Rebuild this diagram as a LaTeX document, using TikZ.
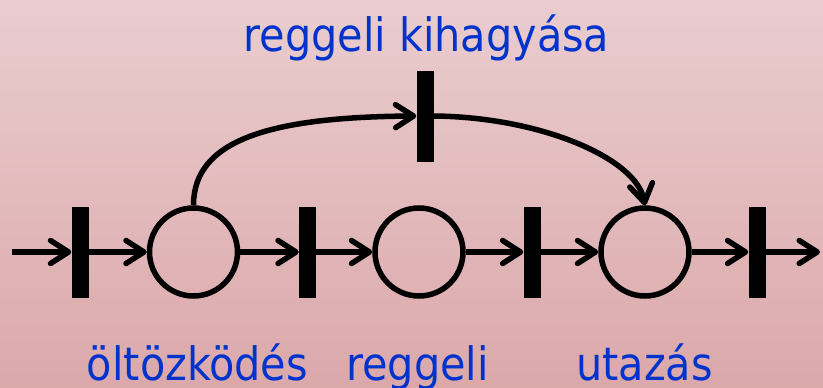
\documentclass[tikz,border=0pt]{standalone}
\usepackage{fontspec}
\setmainfont{DejaVu Sans Condensed}
\usetikzlibrary{arrows.meta}
\definecolor{bgtop}{RGB}{234,205,207}
\definecolor{bgbot}{RGB}{219,168,170}
\definecolor{lbl}{RGB}{0,51,204}
\begin{document}
\begin{tikzpicture}[x=1pt,y=-1pt,
  trans/.style={rectangle, fill=black, draw=none, minimum width=17pt, minimum height=91pt, inner sep=0pt},
  place/.style={circle, draw=black, line width=5.5pt, minimum size=88pt, inner sep=0pt},
  flow/.style={line width=5.5pt, -{Straight Barb[round,length=18pt,width=23pt]}},
  lab/.style={text=lbl, font=\fontsize{46}{50}\selectfont, anchor=base, inner sep=0pt}]
\shade[top color=bgtop, bottom color=bgbot] (0,0) rectangle (823,388);
\useasboundingbox (0,0) rectangle (823,388);
\coordinate (in) at (12,252);
\node[trans] (t1) at (80,252) {};
\node[place] (p1) at (193.5,252) {};
\node[trans] (t2) at (307.5,252) {};
\node[place] (p2) at (419,252) {};
\node[trans] (t3) at (532,252) {};
\node[place] (p3) at (645,252) {};
\node[trans] (t4) at (757,252) {};
\coordinate (out) at (820,252);
\node[trans] (tk) at (425,116) {};
\draw[flow] (in) -- (t1);
\draw[flow] (t1) -- (p1);
\draw[flow] (p1) -- (t2);
\draw[flow] (t2) -- (p2);
\draw[flow] (p2) -- (t3);
\draw[flow] (t3) -- (p3);
\draw[flow] (p3) -- (t4);
\draw[flow] (t4) -- (out);
\draw[flow] (p1.north) .. controls (193.5,140) and (270,117) .. (tk.west);
\draw[flow] (tk.east) .. controls (540,117) and (636,158) .. (p3.north);
\node[lab] (lk) at (426.5,52) {reggeli kihagyása};
\node[lab] (l1) at (197.5,380) {öltözködés};
\node[lab] (l2) at (417.5,380) {reggeli};
\node[lab] (l3) at (644.5,380) {utazás};
\end{tikzpicture}
\end{document}
